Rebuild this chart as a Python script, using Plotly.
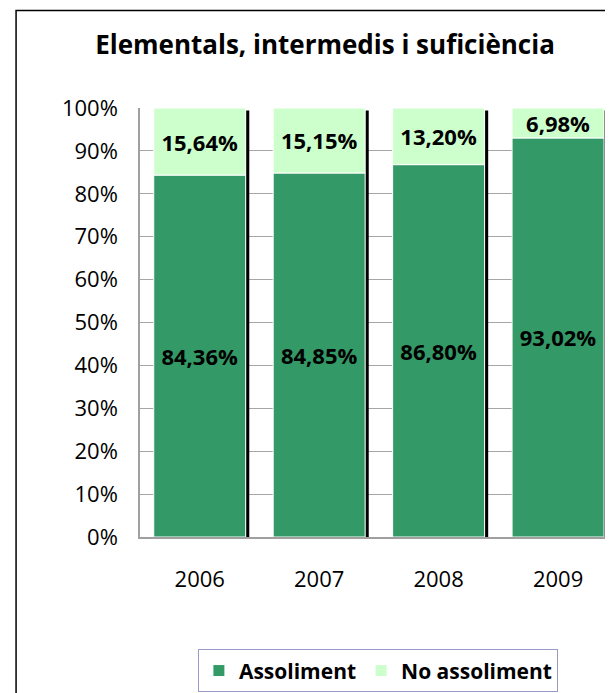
import plotly.graph_objects as go

years = ["2006", "2007", "2008", "2009"]
assoliment = [84.36, 84.85, 86.80, 93.02]
no_assoliment = [15.64, 15.15, 13.20, 6.98]
totals = [a + n for a, n in zip(assoliment, no_assoliment)]

green = "#339966"
light = "#CCFFCC"
font = "Open Sans"

fig = go.Figure()

# black "shadow" strip on the right of every column
fig.add_trace(go.Bar(
    x=years, y=[t - 0.6 for t in totals],
    width=0.03, offset=0.385,
    marker=dict(color="black", line=dict(width=0)),
    showlegend=False, hoverinfo="skip",
))

label_font = dict(size=22, color="black", family=font, weight="bold")

fig.add_trace(go.Bar(
    x=years, y=assoliment, name="Assoliment",
    width=0.77, offset=-0.385,
    marker=dict(color=green, line=dict(color="white", width=1)),
    texttemplate="%{y:.2f}%", textposition="inside", insidetextanchor="middle",
    textfont=label_font, constraintext="none",
))

fig.add_trace(go.Bar(
    x=years, y=no_assoliment, base=assoliment, name="No assoliment",
    width=0.77, offset=-0.385,
    marker=dict(color=light, line=dict(color="white", width=1)),
    texttemplate="%{y:.2f}%", textposition="inside", insidetextanchor="middle",
    textfont=label_font, constraintext="none",
))

# page body has an 8px margin, so the figure is a bit smaller than the window
fig.update_layout(
    width=605, height=685,
    margin=dict(l=132, r=0, t=100, b=153),
    barmode="overlay",
    separators=",.",
    paper_bgcolor="white", plot_bgcolor="white",
    font=dict(family=font, size=22, color="black"),
    title=dict(
        text="<b>Elementals, intermedis i suficiència</b>",
        x=0.524, xanchor="center", y=0.946, yanchor="middle",
        font=dict(size=26, family=font, color="black"),
    ),
    legend=dict(
        orientation="h", x=0.503, xanchor="center", y=-0.262, yanchor="top",
        bordercolor="#9a9ac8", borderwidth=1,
        font=dict(size=21, family=font, weight="bold"),
        itemwidth=30, traceorder="normal",
    ),
)

fig.update_xaxes(
    type="category", range=[-0.5, 3.46],
    showline=True, linecolor="#a0a0a0", linewidth=1.5,
    ticks="", showgrid=False, ticklabelstandoff=22,
    tickfont=dict(size=22, family=font),
)
fig.update_yaxes(
    range=[0, 100], dtick=10, ticksuffix="%",
    showline=True, linecolor="#a0a0a0", linewidth=1.5,
    showgrid=True, gridcolor="#a6a6a6", gridwidth=1,
    ticks="", ticklabelstandoff=16,
    tickfont=dict(size=22, family=font),
    zeroline=False,
)

# outer chart frame
fig.add_shape(
    type="rect", xref="paper", yref="paper",
    x0=-0.262, x1=1.3, y0=-0.6, y1=1.227,
    line=dict(color="black", width=1.5), fillcolor="rgba(0,0,0,0)",
    layer="below",
)

fig.write_html("out.html")
